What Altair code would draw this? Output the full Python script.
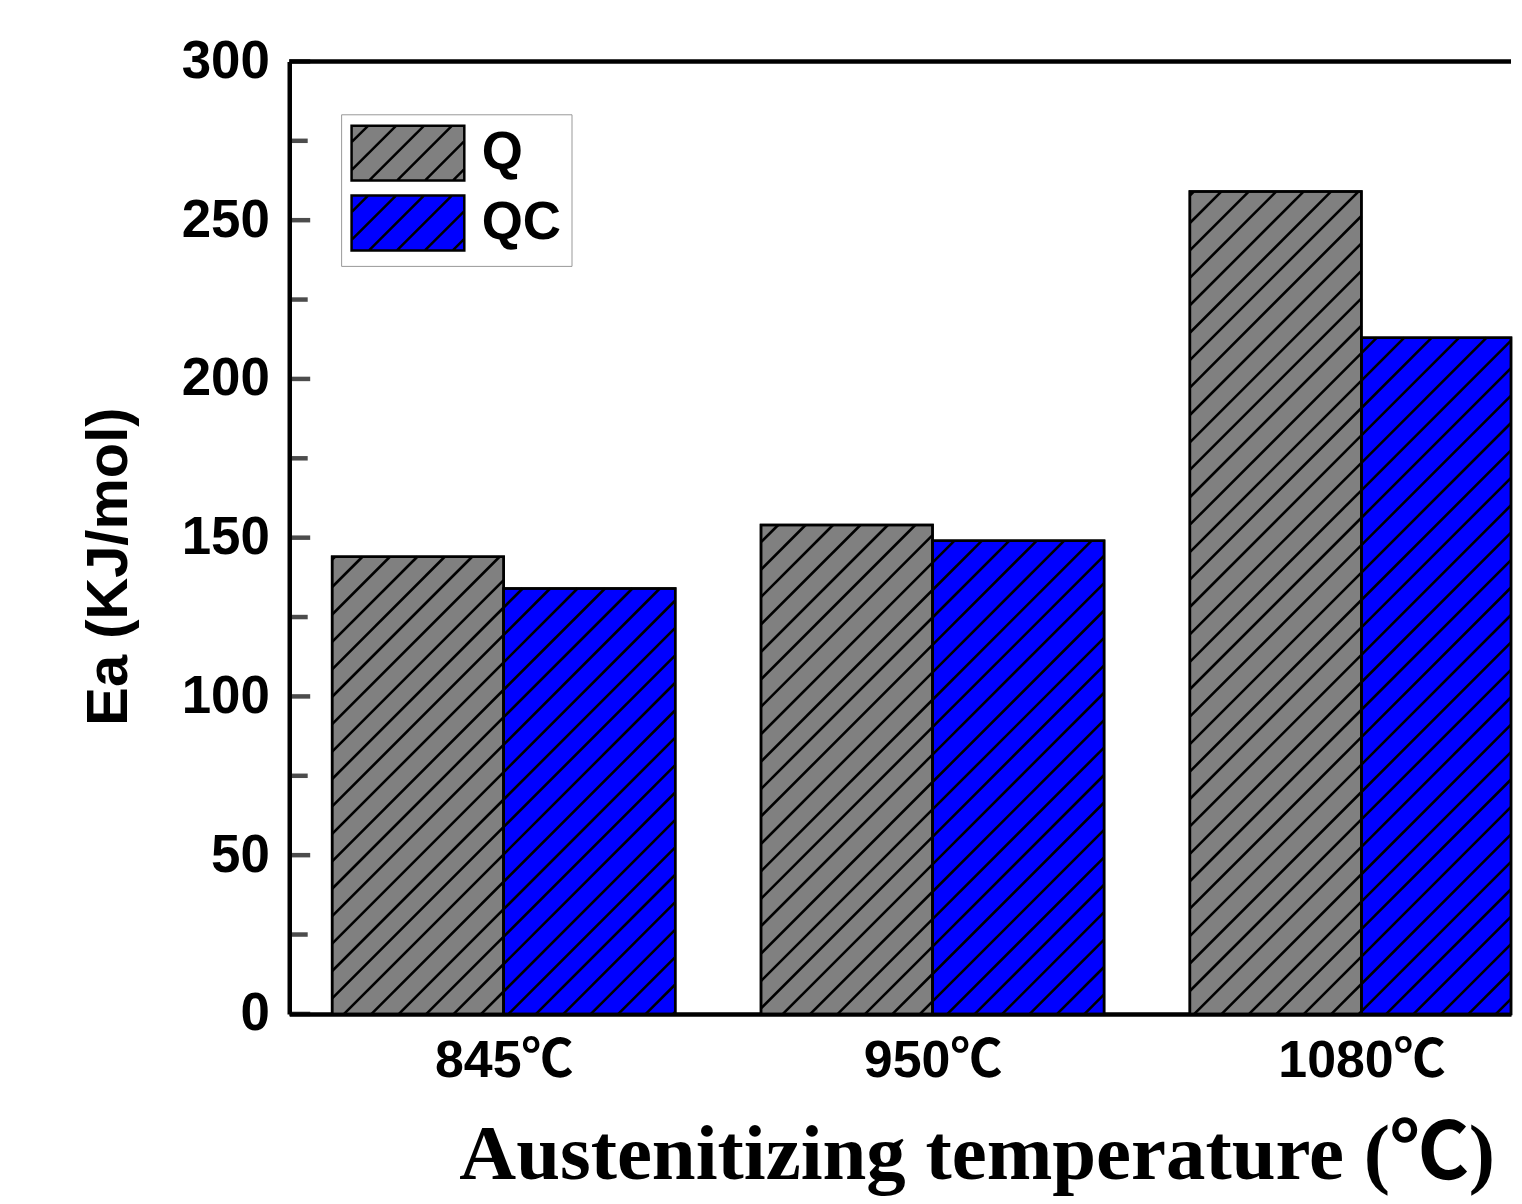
import json
import math
import altair as alt
import pandas as pd

# ---- data ----
temps = ["845℃", "950℃", "1080℃"]
series = ["Q", "QC"]
q_vals = [144, 154, 259]
qc_vals = [134, 149, 213]
colors = ["#808080", "#0000ff"]
y_major = [0, 50, 100, 150, 200, 250, 300]
y_minor = [25, 75, 125, 175, 225, 275]

# ---- layout / style constants ----
PX_X = 430.0                # pixels per category step
W, H = 1225, 955
BAR_W = 0.4
X_DOMAIN = [-0.5, -0.5 + W / PX_X]   # plot is cut at the right like the reference
PX_Y = H / 300.0
HATCH = 27.5
SANS = "Liberation Sans, Noto Sans CJK SC"
SERIF = "Liberation Serif, Noto Sans CJK SC"
MAJOR_LEN, MINOR_LEN = 21, 16

rows = []
for g, t in enumerate(temps):
    for s, (name, vals) in enumerate(zip(series, [q_vals, qc_vals])):
        x0 = g + (s - 1) * BAR_W
        x1 = min(x0 + BAR_W, X_DOMAIN[1])
        rows.append(dict(temp=t, series=name, x0=x0, x1=x1, value=vals[g], base=0))
bars = pd.DataFrame(rows)

# hatch segments (45 degree lines in pixel space), clipped to each bar
hatch = []
for r in rows:
    X0 = (r["x0"] - X_DOMAIN[0]) * PX_X
    X1 = (r["x1"] - X_DOMAIN[0]) * PX_X
    Hb = r["value"] * PX_Y
    kmin = math.floor((X0 - Hb) / HATCH)
    kmax = math.ceil(X1 / HATCH)
    for k in range(kmin, kmax + 1):
        c = k * HATCH
        lo = max(X0, c)
        hi = min(X1, Hb + c)
        if hi - lo > 1:
            hatch.append(dict(x0=lo / PX_X + X_DOMAIN[0], x1=hi / PX_X + X_DOMAIN[0],
                              value=(lo - c) / PX_Y, base=(hi - c) / PX_Y))
hatch_df = pd.DataFrame(hatch)

# inward axis ticks (one layer): long at major values, shorter at minor values
tick_df = pd.DataFrame({"value": y_major + y_minor,
                        "len": [MAJOR_LEN] * len(y_major) + [MINOR_LEN] * len(y_minor)})
top_df = pd.DataFrame({"value": [max(y_major)]})

# legend swatch path: rectangle with diagonal hatch lines
a = 113 / 55.0
step = 28 / 27.5
parts = [f"M{-a:.3f},-1H{a:.3f}V1H{-a:.3f}Z"]
c = -a - 1 + 0.6
while c < a + 1:
    xs = max(-a, c - 1)
    xe = min(a, c + 1)
    if xe - xs > 0.05:
        parts.append(f"M{xs:.3f},{c - xs:.3f}L{xe:.3f},{c - xe:.3f}")
    c += step
swatch_path = "".join(parts)

xs_scale = alt.Scale(domain=X_DOMAIN, nice=False, zero=False)
ys_scale = alt.Scale(domain=[0, 300], nice=False)

label_expr = json.dumps(temps, ensure_ascii=False) + "[datum.value]"

x_axis = alt.Axis(values=[0, 1, 2], labelExpr=label_expr, ticks=False, grid=False,
                  domainColor="black", domainWidth=4.5,
                  labelFont=SANS, labelFontSize=52, labelFontWeight="bold", labelColor="black",
                  labelPadding=22, labelBaseline="top",
                  title="Austenitizing temperature (℃)", titleFont=SERIF, titleFontSize=79,
                  titleFontWeight="bold", titleColor="black", titleAnchor="start",
                  titleAlign="left", titleBaseline="alphabetic", titleX=170, titleY=165)

y_axis = alt.Axis(values=y_major, ticks=False, grid=False, domainColor="black", domainWidth=4.5,
                  labelFont=SANS, labelFontSize=53, labelFontWeight="bold", labelColor="black",
                  labelPadding=20,
                  title="Ea (KJ/mol)", titleFont=SANS, titleFontSize=58, titleFontWeight="bold",
                  titleColor="black", titleX=-180, titleY=506, titleAngle=270,
                  titleAlign="center", titleBaseline="middle")

legend = alt.Legend(title=None, orient="none", legendX=52, legendY=53,
                    symbolType=swatch_path, symbolSize=55 * 55, symbolStrokeColor="black",
                    symbolStrokeWidth=2.5, symbolOffset=28, labelOffset=45,
                    labelFont=SANS, labelFontSize=53, labelFontWeight="bold", labelColor="black",
                    padding=10, rowPadding=4, strokeColor="#999999", fillColor="white")

X = alt.X("x0:Q", scale=xs_scale, axis=x_axis)
Y = alt.Y("value:Q", scale=ys_scale, axis=y_axis)

base_bars = alt.Chart(bars).mark_rect(stroke="black", strokeWidth=2.5).encode(
    x=X, x2="x1:Q", y=Y, y2="base:Q",
    color=alt.Color("series:N", scale=alt.Scale(domain=series, range=colors), legend=legend),
)

hatch_layer = alt.Chart(hatch_df).mark_rule(color="black", strokeWidth=2.6).encode(
    x=X, x2="x1:Q", y=Y, y2="base:Q",
)

outline = alt.Chart(bars).mark_rect(stroke="black", strokeWidth=2.5, fillOpacity=0).encode(
    x=X, x2="x1:Q", y=Y, y2="base:Q",
)

ticks = alt.Chart(tick_df).mark_tick(color="black", thickness=4.5, orient="horizontal",
                                     xOffset=MAJOR_LEN / 2).encode(
    y=Y, x=alt.value(0), size=alt.Size("len:Q", scale=None, legend=None))

top_line = alt.Chart(top_df).mark_rule(color="black", strokeWidth=4.5).encode(
    y=Y, x=alt.value(0), x2=alt.value(W))

chart = alt.layer(base_bars, hatch_layer, outline, ticks, top_line).properties(
    width=W, height=H,
    padding={"left": 73, "top": 26, "right": 0, "bottom": 0},
    background="white",
).configure_view(strokeWidth=0)

chart.save("out.html", embed_options={"renderer": "svg", "actions": False})
